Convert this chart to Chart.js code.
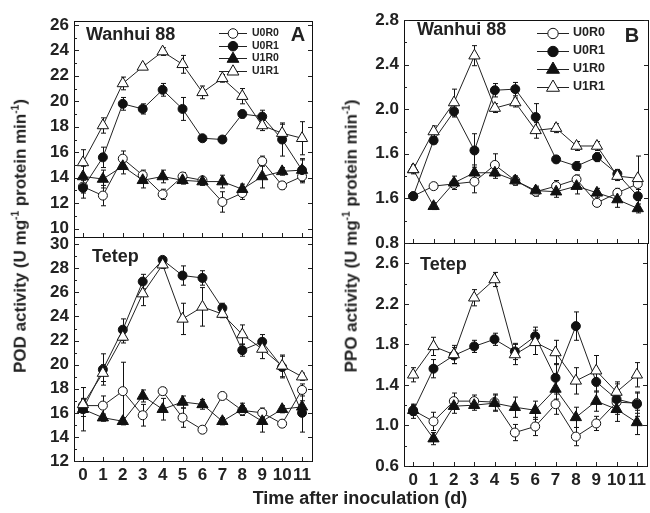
<!DOCTYPE html>
<html>
<head>
<meta charset="utf-8">
<script src="https://cdn.jsdelivr.net/npm/chart.js@4.4.0/dist/chart.umd.min.js"></script>
<style>
  body { margin: 0; background: #fff; }
  #wrap { position: relative; width: 650px; height: 513px; font-family: "Liberation Sans", Arial, sans-serif; color: #222; overflow: hidden; }
  canvas { position: absolute; }
  .ytitle { position: absolute; font-weight: bold; font-size: 17px; white-space: nowrap; transform: translate(-50%, -50%) rotate(-90deg); }
  .ytitle sup { font-size: 10px; }
  #xtitle { position: absolute; left: 360px; top: 498px; transform: translate(-50%, -50%); font-weight: bold; font-size: 18px; white-space: nowrap; }
  .tick { position: absolute; background: #222; }
</style>
</head>
<body>
<div id="wrap">
  <canvas id="podW" width="320" height="257" style="left:0;top:0"></canvas>
  <canvas id="podT" width="320" height="273" style="left:0;top:217px"></canvas>
  <canvas id="ppoW" width="320" height="263" style="left:330px;top:0"></canvas>
  <canvas id="ppoT" width="320" height="273" style="left:330px;top:223px"></canvas>
  <div class="ytitle" style="left:20px;top:236px">POD activity (U mg<sup>-1</sup> protein min<sup>-1</sup>)</div>
  <div class="ytitle" style="left:351px;top:236px">PPO activity (U mg<sup>-1</sup> protein min<sup>-1</sup>)</div>
  <div id="xtitle">Time after inoculation (d)</div>
</div>
<script>
const days = [0, 1, 2, 3, 4, 5, 6, 7, 8, 9, 10, 11];
const seriesNames = ['U0R0', 'U0R1', 'U1R0', 'U1R1'];

// POD, Wanhui 88
const podW_U0R0 = [13.3, 12.6, 15.5, 14.2, 12.7, 14.1, 13.8, 12.1, 12.8, 15.3, 13.4, 14.1];
const podW_U0R1 = [13.2, 15.6, 19.8, 19.4, 20.9, 19.4, 17.1, 17.0, 19.0, 18.8, 17.0, 14.6];
const podW_U1R0 = [14.1, 13.9, 14.9, 13.8, 14.1, 13.8, 13.7, 13.7, 13.1, 14.1, 14.5, 14.6];
const podW_U1R1 = [15.2, 18.1, 21.4, 22.7, 23.9, 22.9, 20.7, 21.8, 20.4, 18.1, 17.5, 17.1];
const podW_U0R0_err = [0.5, 0.8, 0.6, 0.4, 0.4, 0.3, 0.3, 0.8, 0.5, 0.4, 0.3, 0.5];
const podW_U0R1_err = [0.8, 0.8, 0.5, 0.4, 0.5, 0.9, 0.2, 0.2, 0.3, 0.5, 1.3, 0.8];
const podW_U1R0_err = [0.8, 0.7, 0.6, 0.6, 0.5, 0.3, 0.3, 0.5, 0.4, 0.9, 0.3, 0.9];
const podW_U1R1_err = [1.0, 0.6, 0.5, 0.2, 0.3, 0.7, 0.5, 0.3, 0.6, 0.4, 0.7, 1.3];

// POD, Tetep
const podT_U0R0 = [16.6, 16.6, 17.8, 15.8, 17.8, 15.6, 14.6, 17.4, 16.2, 16.0, 15.1, 17.9];
const podT_U0R1 = [16.3, 19.6, 22.9, 26.9, 28.7, 27.4, 27.2, 24.7, 21.2, 21.9, 19.8, 16.0];
const podT_U1R0 = [16.3, 15.6, 15.3, 17.4, 16.3, 16.9, 16.7, 15.3, 16.3, 15.3, 16.3, 16.5];
const podT_U1R1 = [16.7, 19.3, 22.3, 25.9, 28.3, 23.8, 24.8, 24.2, 22.5, 21.3, 19.9, 19.0];
const podT_U0R0_err = [0.5, 0.8, 2.4, 0.9, 0.3, 0.8, 0.3, 0.3, 0.4, 0.4, 0.3, 0.5];
const podT_U0R1_err = [1.8, 1.3, 0.9, 0.6, 0.2, 0.8, 0.6, 0.4, 0.5, 0.6, 0.9, 1.6];
const podT_U1R0_err = [0.6, 0.3, 0.3, 0.5, 0.9, 0.5, 0.4, 0.3, 0.5, 0.9, 0.3, 0.5];
const podT_U1R1_err = [0.5, 0.7, 0.5, 1.0, 0.3, 1.3, 1.6, 0.3, 0.8, 0.8, 0.9, 0.3];

// PPO, Wanhui 88
const ppoW_U0R0 = [1.22, 1.31, 1.33, 1.35, 1.50, 1.36, 1.26, 1.31, 1.37, 1.16, 1.25, 1.33];
const ppoW_U0R1 = [1.22, 1.72, 1.98, 1.63, 2.17, 2.18, 1.93, 1.55, 1.49, 1.57, 1.42, 1.22];
const ppoW_U1R0 = [1.46, 1.13, 1.34, 1.43, 1.43, 1.36, 1.27, 1.26, 1.31, 1.25, 1.19, 1.11];
const ppoW_U1R1 = [1.46, 1.80, 2.06, 2.48, 2.01, 2.06, 1.81, 1.83, 1.67, 1.67, 1.40, 1.38];
const ppoW_U0R0_err = [0.02, 0.03, 0.03, 0.10, 0.10, 0.04, 0.04, 0.05, 0.04, 0.03, 0.04, 0.05];
const ppoW_U0R1_err = [0.02, 0.03, 0.05, 0.15, 0.06, 0.06, 0.12, 0.03, 0.04, 0.04, 0.04, 0.10];
const ppoW_U1R0_err = [0.03, 0.03, 0.06, 0.07, 0.05, 0.04, 0.04, 0.05, 0.07, 0.04, 0.07, 0.04];
const ppoW_U1R1_err = [0.04, 0.05, 0.12, 0.09, 0.04, 0.04, 0.07, 0.04, 0.04, 0.04, 0.04, 0.20];

// PPO, Tetep
const ppoT_U0R0 = [1.15, 1.04, 1.24, 1.24, 1.23, 0.93, 0.99, 1.21, 0.89, 1.02, 1.23, 1.22];
const ppoT_U0R1 = [1.14, 1.56, 1.69, 1.78, 1.85, 1.73, 1.88, 1.47, 1.98, 1.43, 1.26, 1.21];
const ppoT_U1R0 = [1.15, 0.87, 1.19, 1.20, 1.22, 1.18, 1.15, 1.36, 1.08, 1.24, 1.16, 1.03];
const ppoT_U1R1 = [1.50, 1.78, 1.70, 2.26, 2.44, 1.70, 1.82, 1.72, 1.44, 1.54, 1.33, 1.50];
const ppoT_U0R0_err = [0.05, 0.09, 0.08, 0.06, 0.08, 0.08, 0.09, 0.10, 0.09, 0.07, 0.08, 0.10];
const ppoT_U0R1_err = [0.07, 0.09, 0.08, 0.06, 0.06, 0.08, 0.09, 0.14, 0.14, 0.10, 0.15, 0.12];
const ppoT_U1R0_err = [0.05, 0.06, 0.07, 0.05, 0.08, 0.10, 0.09, 0.10, 0.10, 0.10, 0.12, 0.12];
const ppoT_U1R1_err = [0.07, 0.09, 0.09, 0.08, 0.07, 0.10, 0.12, 0.12, 0.13, 0.15, 0.10, 0.12];

// y tick values and their printed labels (the 1.2 tick is printed as "1.6" in the original)
const podWTicks = [10, 12, 14, 16, 18, 20, 22, 24, 26];
const podWLabels = ['10', '12', '14', '16', '18', '20', '22', '24', '26'];
const podTTicks = [12, 14, 16, 18, 20, 22, 24, 26, 28, 30];
const podTLabels = ['12', '14', '16', '18', '20', '22', '24', '26', '28', '30'];
const ppoWTicks = [0.8, 1.2, 1.6, 2.0, 2.4, 2.8];
const ppoWLabels = ['0.8', '1.6', '1.6', '2.0', '2.4', '2.8'];
const ppoTTicks = [0.6, 1.0, 1.4, 1.8, 2.2, 2.6];
const ppoTLabels = ['0.6', '1.0', '1.4', '1.8', '2.2', '2.6'];

const FONT = '"Liberation Sans", Arial, sans-serif';
const INK = '#222';
const EDGE = '#111';
const pointStyles = ['circle', 'circle', 'triangle', 'triangle'];
const pointFills = ['#fff', '#111', '#111', '#fff'];
const pointSizes = [4.5, 4.5, 6.5, 6.5];
const drawOrder = [3, 1, 2, 0]; // U1R1 ends up on top
const X_MIN = -0.45, X_MAX = 11.5;

// error bars under the lines; panel labels and legend on top
const panelPlugin = {
  id: 'panel',
  beforeDatasetsDraw(chart) {
    const ctx = chart.ctx, xs = chart.scales.x, ys = chart.scales.y;
    ctx.save();
    ctx.lineWidth = 1;
    ctx.strokeStyle = '#111';
    chart.data.datasets.forEach(ds => {
      ds.data.forEach((p, i) => {
        const e = ds.errors[i];
        const px = Math.round(xs.getPixelForValue(p.x)) + 0.5;
        const y1 = ys.getPixelForValue(p.y + e), y2 = ys.getPixelForValue(p.y - e);
        ctx.beginPath();
        ctx.moveTo(px, y1); ctx.lineTo(px, y2);
        ctx.moveTo(px - 2.5, y1); ctx.lineTo(px + 2.5, y1);
        ctx.moveTo(px - 2.5, y2); ctx.lineTo(px + 2.5, y2);
        ctx.stroke();
      });
    });
    ctx.restore();
  },
  afterDatasetsDraw(chart, args, o) {
    const ctx = chart.ctx;
    ctx.save();
    ctx.fillStyle = INK;
    ctx.textBaseline = 'middle';
    (o.texts || []).forEach(t => {
      ctx.font = 'bold ' + t.size + 'px ' + FONT;
      ctx.textAlign = t.align || 'left';
      ctx.fillText(t.text, t.x, t.y);
    });

    const lg = o.legend;
    if (lg) {
      ctx.font = 'bold ' + lg.size + 'px ' + FONT;
      ctx.textAlign = 'left';
      ctx.lineWidth = 1;
      chart.data.datasets.forEach((ds, i) => {
        const cy = lg.y + i * lg.dy;
        const cx = (lg.x1 + lg.x2) / 2;
        ctx.fillStyle = INK;
        ctx.fillRect(lg.x1, Math.round(cy), lg.x2 - lg.x1, 1);
        ctx.fillStyle = ds.pointBackgroundColor;
        ctx.strokeStyle = '#111';
        Chart.helpers.drawPoint(ctx, {
          pointStyle: ds.pointStyle,
          radius: ds.pointStyle === 'triangle' ? lg.tri : lg.circ,
          borderWidth: 1, rotation: 0
        }, cx, cy + 0.5);
        ctx.fillStyle = INK;
        ctx.fillText(ds.label, lg.tx, cy);
      });
    }
    ctx.restore();
  }
};

// inward ticks as page elements laid over the canvas
function addTicks(chart, canvas, p) {
  const wrap = document.getElementById('wrap');
  const ox = canvas.offsetLeft, oy = canvas.offsetTop;
  const xs = chart.scales.x, ys = chart.scales.y;
  const left = Math.round(xs.getPixelForValue(X_MIN));
  const right = Math.round(xs.getPixelForValue(X_MAX));
  const bottom = Math.round(ys.getPixelForValue(p.yMin));
  const mark = (x, y, w, h) => {
    const d = document.createElement('div');
    d.className = 'tick';
    d.style.left = (ox + x) + 'px';
    d.style.top = (oy + y) + 'px';
    d.style.width = w + 'px';
    d.style.height = h + 'px';
    wrap.appendChild(d);
  };
  const step = p.yTicks[1] - p.yTicks[0];
  for (let k = -2; k <= p.yTicks.length * 2; k++) {
    const v = p.yTicks[0] + k * step / 2;
    if (v < p.yMin - 1e-9 || v > p.yMax + 1e-9) continue;
    const major = k % 2 === 0;
    const py = Math.round(ys.getPixelForValue(v));
    mark(left, py, major ? 5 : 3, 1);
    if (major) mark(right - 4, py, 4, 1);
  }
  days.forEach(d => {
    const px = Math.round(xs.getPixelForValue(d));
    mark(px, bottom - 4, 1, 4);
  });
}

// plain edge axis: only its border line is drawn
function edgeAxis(position, min, max, horizontal) {
  return {
    type: 'linear', position, min, max,
    grid: { display: false, drawTicks: false },
    border: { display: true, color: EDGE, width: 1 },
    ticks: { display: false },
    afterFit: s => { if (horizontal) s.height = 0; else s.width = 0; }
  };
}

function makePanel(id, p) {
  const datasets = seriesNames.map((name, k) => ({
    label: name,
    data: days.map((d, i) => ({ x: d, y: p.values[k][i] })),
    errors: p.errors[k],
    order: drawOrder[k],
    borderColor: INK,
    borderWidth: 1,
    pointStyle: pointStyles[k],
    pointRadius: pointSizes[k],
    pointBackgroundColor: pointFills[k],
    pointBorderColor: '#111',
    pointBorderWidth: 1,
    tension: 0,
    fill: false,
    clip: false
  }));

  const canvas = document.getElementById(id);
  const chart = new Chart(canvas, {
    type: 'line',
    data: { datasets },
    options: {
      responsive: false,
      animation: false,
      devicePixelRatio: 1,
      layout: { autoPadding: false, padding: p.padding },
      plugins: {
        legend: { display: false },
        tooltip: { enabled: false },
        panel: { texts: p.texts, legend: p.legend }
      },
      scales: {
        x: {
          type: 'linear', min: X_MIN, max: X_MAX,
          grid: { display: false, drawTicks: false },
          border: { display: true, color: EDGE, width: 1 },
          afterBuildTicks: s => { s.ticks = days.map(v => ({ value: v })); },
          afterFit: s => { s.height = p.xHeight; },
          ticks: {
            display: p.showX, padding: 4, autoSkip: false, maxRotation: 0,
            color: INK, font: { family: FONT, size: 17, weight: 'bold' }
          }
        },
        y: {
          min: p.yMin, max: p.yMax,
          grid: { display: false, drawTicks: false },
          border: { display: true, color: EDGE, width: 1 },
          afterBuildTicks: s => { s.ticks = p.yTicks.map(v => ({ value: v })); },
          afterFit: s => { s.width = 74; },
          ticks: {
            padding: 5, color: INK, autoSkip: false,
            font: { family: FONT, size: 17, weight: 'bold' },
            callback: (v, i) => p.yLabels[i]
          }
        },
        xTop: edgeAxis('top', X_MIN, X_MAX, true),
        yRight: edgeAxis('right', p.yMin, p.yMax, false)
      }
    },
    plugins: [panelPlugin]
  });
  addTicks(chart, canvas, p);
  return chart;
}

// each canvas keeps 20px of room above and below its plot box
makePanel('podW', {
  values: [podW_U0R0, podW_U0R1, podW_U1R0, podW_U1R1],
  errors: [podW_U0R0_err, podW_U0R1_err, podW_U1R0_err, podW_U1R1_err],
  yMin: 9.35, yMax: 26.3, yTicks: podWTicks, yLabels: podWLabels,
  padding: { top: 21, right: 8, left: 0, bottom: 0 }, xHeight: 20, showX: false,
  texts: [{ text: 'Wanhui 88', x: 86, y: 35, size: 18 }, { text: 'A', x: 298, y: 35, size: 20, align: 'center' }],
  legend: { x1: 219, x2: 247, tx: 252, y: 33, dy: 12.7, size: 10.5, circ: 4.8, tri: 6.8 }
});

makePanel('podT', {
  values: [podT_U0R0, podT_U0R1, podT_U1R0, podT_U1R1],
  errors: [podT_U0R0_err, podT_U0R1_err, podT_U1R0_err, podT_U1R1_err],
  yMin: 12, yMax: 30.6, yTicks: podTTicks, yLabels: podTLabels,
  padding: { top: 20, right: 8, left: 0, bottom: 0 }, xHeight: 29, showX: true,
  texts: [{ text: 'Tetep', x: 92, y: 40, size: 18 }]
});

makePanel('ppoW', {
  values: [ppoW_U0R0, ppoW_U0R1, ppoW_U1R0, ppoW_U1R1],
  errors: [ppoW_U0R0_err, ppoW_U0R1_err, ppoW_U1R0_err, ppoW_U1R1_err],
  yMin: 0.8, yMax: 2.8, yTicks: ppoWTicks, yLabels: ppoWLabels,
  padding: { top: 20, right: 2, left: 0, bottom: 0 }, xHeight: 20, showX: false,
  texts: [{ text: 'Wanhui 88', x: 87, y: 30, size: 18 }, { text: 'B', x: 302, y: 36, size: 20, align: 'center' }],
  legend: { x1: 207, x2: 239, tx: 243, y: 33, dy: 18, size: 12.5, circ: 5.2, tri: 7.5 }
});

makePanel('ppoT', {
  values: [ppoT_U0R0, ppoT_U0R1, ppoT_U1R0, ppoT_U1R1],
  errors: [ppoT_U0R0_err, ppoT_U0R1_err, ppoT_U1R0_err, ppoT_U1R1_err],
  yMin: 0.6, yMax: 2.8, yTicks: ppoTTicks, yLabels: ppoTLabels,
  padding: { top: 20, right: 2, left: 0, bottom: 0 }, xHeight: 30, showX: true,
  texts: [{ text: 'Tetep', x: 90, y: 42, size: 18 }]
});
</script>
</body>
</html>
